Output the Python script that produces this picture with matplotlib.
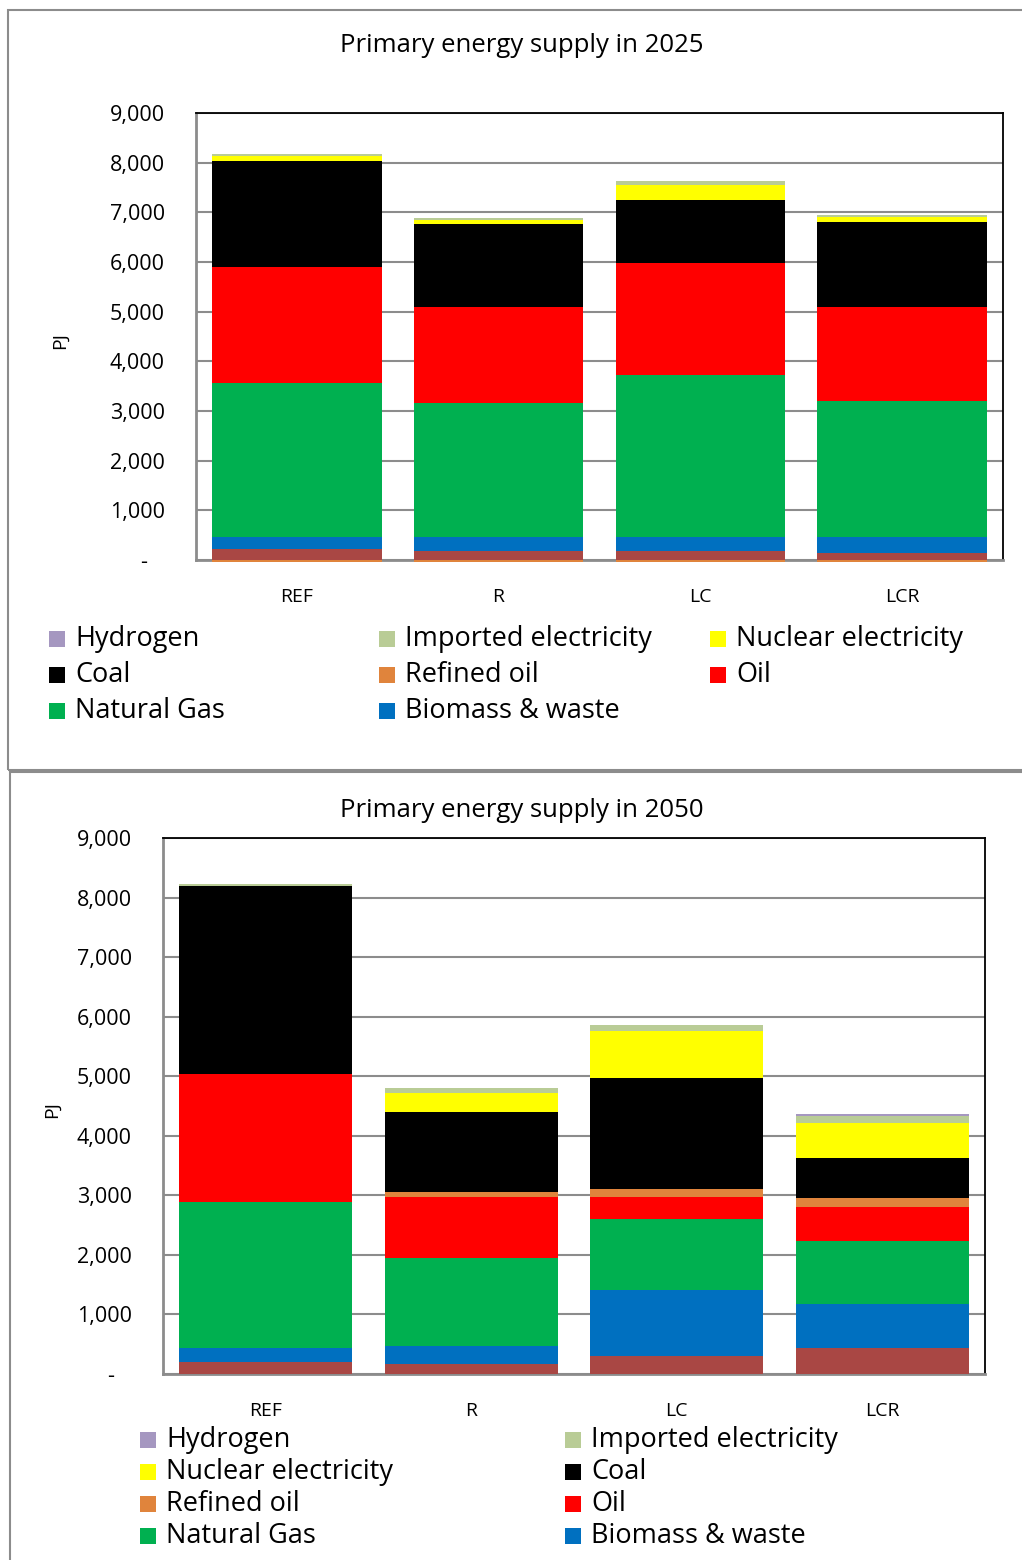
import matplotlib
matplotlib.use("Agg")
import matplotlib.pyplot as plt
import numpy as np
from matplotlib.patches import Rectangle

# Data (PJ)
scenarios = ["REF", "R", "LC", "LCR"]

# stack order bottom -> top
series_names = ["Other", "Biomass & waste", "Natural Gas", "Oil", "Refined oil",
                "Coal", "Nuclear electricity", "Imported electricity", "Hydrogen"]
colors = ["#A94744", "#0070C0", "#00B050", "#FF0000", "#E0843C",
          "#000000", "#FFFF00", "#B9CC96", "#A597C0"]

# 2025
other_2025 = [221, 187, 187, 147]
biomass_2025 = [236, 270, 270, 310]
gas_2025 = [3105, 2705, 3268, 2744]
oil_2025 = [2335, 1933, 2255, 1893]
refined_2025 = [-50, -50, -50, -50]
coal_2025 = [2140, 1677, 1268, 1711]
nuclear_2025 = [100, 74, 302, 101]
imported_2025 = [35, 34, 80, 40]
hydrogen_2025 = [0, 0, 0, 0]

# 2050
other_2050 = [205, 176, 294, 440]
biomass_2050 = [235, 297, 1120, 739]
gas_2050 = [2456, 1482, 1185, 1046]
oil_2050 = [2148, 1020, 376, 576]
refined_2050 = [0, 89, 123, 151]
coal_2050 = [3158, 1332, 1880, 671]
nuclear_2050 = [0, 325, 773, 595]
imported_2050 = [28, 89, 117, 111]
hydrogen_2050 = [0, 0, 0, 33]

data_2025 = [other_2025, biomass_2025, gas_2025, oil_2025, refined_2025,
             coal_2025, nuclear_2025, imported_2025, hydrogen_2025]
data_2050 = [other_2050, biomass_2050, gas_2050, oil_2050, refined_2050,
             coal_2050, nuclear_2050, imported_2050, hydrogen_2050]

FONT = "Open Sans"
W, H = 1022, 1560


def fx(x):
    return x / W


def fy(y):
    return 1 - y / H


def draw_panel(fig, rect, data, title, title_y, ylabel_x):
    l, t, r, b = rect
    ax = fig.add_axes([fx(l), fy(b), fx(r - l), (b - t) / H])
    x = np.arange(len(scenarios))
    pos = np.zeros(len(scenarios))
    neg = np.zeros(len(scenarios))
    for vals, c in zip(data, colors):
        vals = np.array(vals, dtype=float)
        bottom = np.where(vals >= 0, pos, neg)
        ax.bar(x, vals, 0.84, bottom=bottom, color=c, edgecolor="none",
               clip_on=False, zorder=3)
        pos = pos + np.clip(vals, 0, None)
        neg = neg + np.clip(vals, None, 0)
    ax.set_xlim(-0.5, len(scenarios) - 0.5)
    ax.set_ylim(0, 9000)
    ax.set_yticks(np.arange(0, 9001, 1000))
    ax.set_yticklabels(["-   "] + [f"{v:,}" for v in range(1000, 9001, 1000)],
                       fontsize=15.5, family=FONT)
    ax.set_xticks(x)
    ax.set_xticklabels(scenarios, fontsize=14, family=FONT)
    ax.tick_params(axis="both", length=0)
    ax.tick_params(axis="y", pad=22.5)
    ax.tick_params(axis="x", pad=20)
    ax.yaxis.grid(True, color="#8C8C8C", linewidth=1.5, zorder=0)
    ax.set_axisbelow(True)
    for s in ["top", "right"]:
        ax.spines[s].set_color("black")
        ax.spines[s].set_linewidth(1.3)
    for s in ["left", "bottom"]:
        ax.spines[s].set_color("#8C8C8C")
        ax.spines[s].set_linewidth(2)
    fig.text(fx(522), fy(title_y), title, ha="center", va="center",
             fontsize=18.5, family=FONT)
    fig.text(fx(ylabel_x), fy((t + b) / 2 + 4), "PJ", rotation=90,
             ha="center", va="center", fontsize=14, family=FONT)
    return ax


def draw_legend(fig, items, col_x, row_y):
    ncol = len(col_x)
    for i, name in enumerate(items):
        idx = series_names.index(name)
        cx = col_x[i % ncol]
        cy = row_y[i // ncol]
        fig.add_artist(Rectangle((fx(cx), fy(cy + 8)), 16 / W, 16 / H,
                                 transform=fig.transFigure,
                                 facecolor=colors[idx], edgecolor="none"))
        fig.text(fx(cx + 26), fy(cy), name, ha="left", va="center",
                 fontsize=19.5, family=FONT)


fig = plt.figure(figsize=(W / 100, H / 100), dpi=100)

# panel frames
fig.add_artist(Rectangle((fx(8), fy(770)), fx(1030), (770 - 10) / H,
                         transform=fig.transFigure, facecolor="none",
                         edgecolor="#8C8C8C", linewidth=1.5, clip_on=False))
fig.add_artist(Rectangle((fx(10), fy(1580)), fx(1030), (1580 - 772) / H,
                         transform=fig.transFigure, facecolor="none",
                         edgecolor="#8C8C8C", linewidth=1.5, clip_on=False))

draw_panel(fig, (196, 113, 1003, 560), data_2025,
           "Primary energy supply in 2025", 45, 60)
draw_panel(fig, (163, 838, 985, 1374), data_2050,
           "Primary energy supply in 2050", 810, 52)

legend_2025 = ["Hydrogen", "Imported electricity", "Nuclear electricity",
               "Coal", "Refined oil", "Oil",
               "Natural Gas", "Biomass & waste"]
draw_legend(fig, legend_2025, [49, 379, 710], [639, 675, 711])

legend_2050 = ["Hydrogen", "Imported electricity",
               "Nuclear electricity", "Coal",
               "Refined oil", "Oil",
               "Natural Gas", "Biomass & waste"]
draw_legend(fig, legend_2050, [140, 565], [1440, 1472, 1504, 1536])

fig.savefig("out.png", dpi=100)
